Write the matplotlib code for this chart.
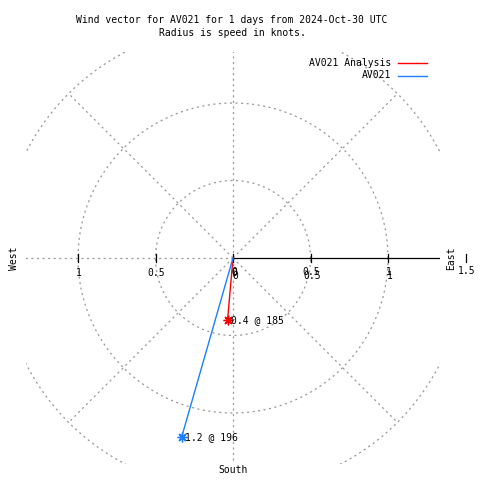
import numpy as np
import matplotlib
matplotlib.use("Agg")
import matplotlib.pyplot as plt
from matplotlib.lines import Line2D

plt.rcParams['font.family'] = ['DejaVu Sans Mono']
plt.rcParams['lines.scale_dashes'] = False

# ---- data ----
series_names = ["AV021 Analysis", "AV021"]
speeds = [0.4, 1.2]          # knots
directions = [185, 196]      # degrees
series_colors = ["#ff0000", "#1a80ff"]
circle_radii = [0.5, 1.0, 1.5]
spoke_angles = [0, 45, 90, 135, 180, 225, 270, 315]
left_ticks = [-1.0, -0.5, 0.0]
left_tick_labels = ["1", "0.5", "0"]
right_ticks = [0.0, 0.5, 1.0]
right_tick_labels = ["0", "0.5", "1"]
title_lines = ["Wind vector for AV021 for 1 days from 2024-Oct-30 UTC",
               "Radius is speed in knots."]

W = H = 480
fig = plt.figure(figsize=(4.8, 4.8), dpi=100)
# axes box in pixels: x 26..440, y 52..464 (from top)
ax = fig.add_axes([26 / W, (H - 464) / H, 414 / W, 412 / H])
scale = 155.0  # px per knot
ax.set_xlim(-207 / scale, 207 / scale)
ax.set_ylim(-206 / scale, 206 / scale)
ax.axis('off')

grid_kw = dict(color='#999999', lw=0.9, linestyle=(0, (1.5, 2.5)))
th = np.linspace(0, 2 * np.pi, 721)
for r in circle_radii:
    ax.plot(r * np.cos(th), r * np.sin(th), **grid_kw)
for a in spoke_angles:
    rad = np.deg2rad(a)
    if a == 0:
        continue
    ax.plot([0, 1.5 * np.cos(rad)], [0, 1.5 * np.sin(rad)], **grid_kw)
# solid axis to the east
ax.plot([0, 1.5], [0, 0], color='black', lw=0.9)

fs = 7
tk = 4 / scale
for x in left_ticks + right_ticks[1:]:
    ax.plot([x, x], [-tk, tk], color='black', lw=0.9)
for x, lab in zip(left_ticks, left_tick_labels):
    ax.annotate(lab, (x, 0), xytext=(1, -15), textcoords='offset pixels',
                ha='center', va='center', fontsize=fs)
for x, lab in zip(right_ticks, right_tick_labels):
    ax.annotate(lab, (x, 0), xytext=(1, -14), textcoords='offset pixels',
                ha='center', va='center', fontsize=fs)
    ax.annotate(lab, (x, 0), xytext=(2, -18), textcoords='offset pixels',
                ha='center', va='center', fontsize=fs)
# 1.5 tick outside box
ax.plot([1.5, 1.5], [-tk, tk], color='black', lw=0.9, clip_on=False)
ax.annotate("1.5", (1.5, 0), xytext=(1, -13), textcoords='offset pixels',
            ha='center', va='center', fontsize=fs, annotation_clip=False)

# vectors
for name, s, d, c in zip(series_names, speeds, directions, series_colors):
    rad = np.deg2rad(d)
    x, y = s * np.sin(rad), s * np.cos(rad)
    ax.plot([0, x], [0, y], color=c, lw=1.0)
    ax.plot([x], [y], marker=(8, 2, 0), color=c, markersize=7, mew=1.0)
    ax.annotate(f"{s:g} @ {d}", (x, y), xytext=(3, 0), textcoords='offset pixels',
                ha='left', va='center', fontsize=fs)

# compass labels
fig.text(14 / W, 1 - 258 / H, "West", rotation=90, ha='center', va='center', fontsize=fs)
fig.text(451 / W, 1 - 258 / H, "East", rotation=90, ha='center', va='center', fontsize=fs)
fig.text(233 / W, 1 - 470 / H, "South", ha='center', va='center', fontsize=fs)

# title
fig.text(232 / W, 1 - 20 / H, title_lines[0], ha='center', va='center', fontsize=fs)
fig.text(232 / W, 1 - 33 / H, title_lines[1], ha='center', va='center', fontsize=fs)

# legend
for i, (name, c) in enumerate(zip(series_names, series_colors)):
    yy = 1 - (63 + 12.5 * i) / H
    fig.text(391 / W, yy, name, ha='right', va='center', fontsize=fs)
    fig.add_artist(Line2D([398 / W, 427 / W], [yy, yy], color=c, lw=1.0))

fig.savefig("out.png", dpi=100)
